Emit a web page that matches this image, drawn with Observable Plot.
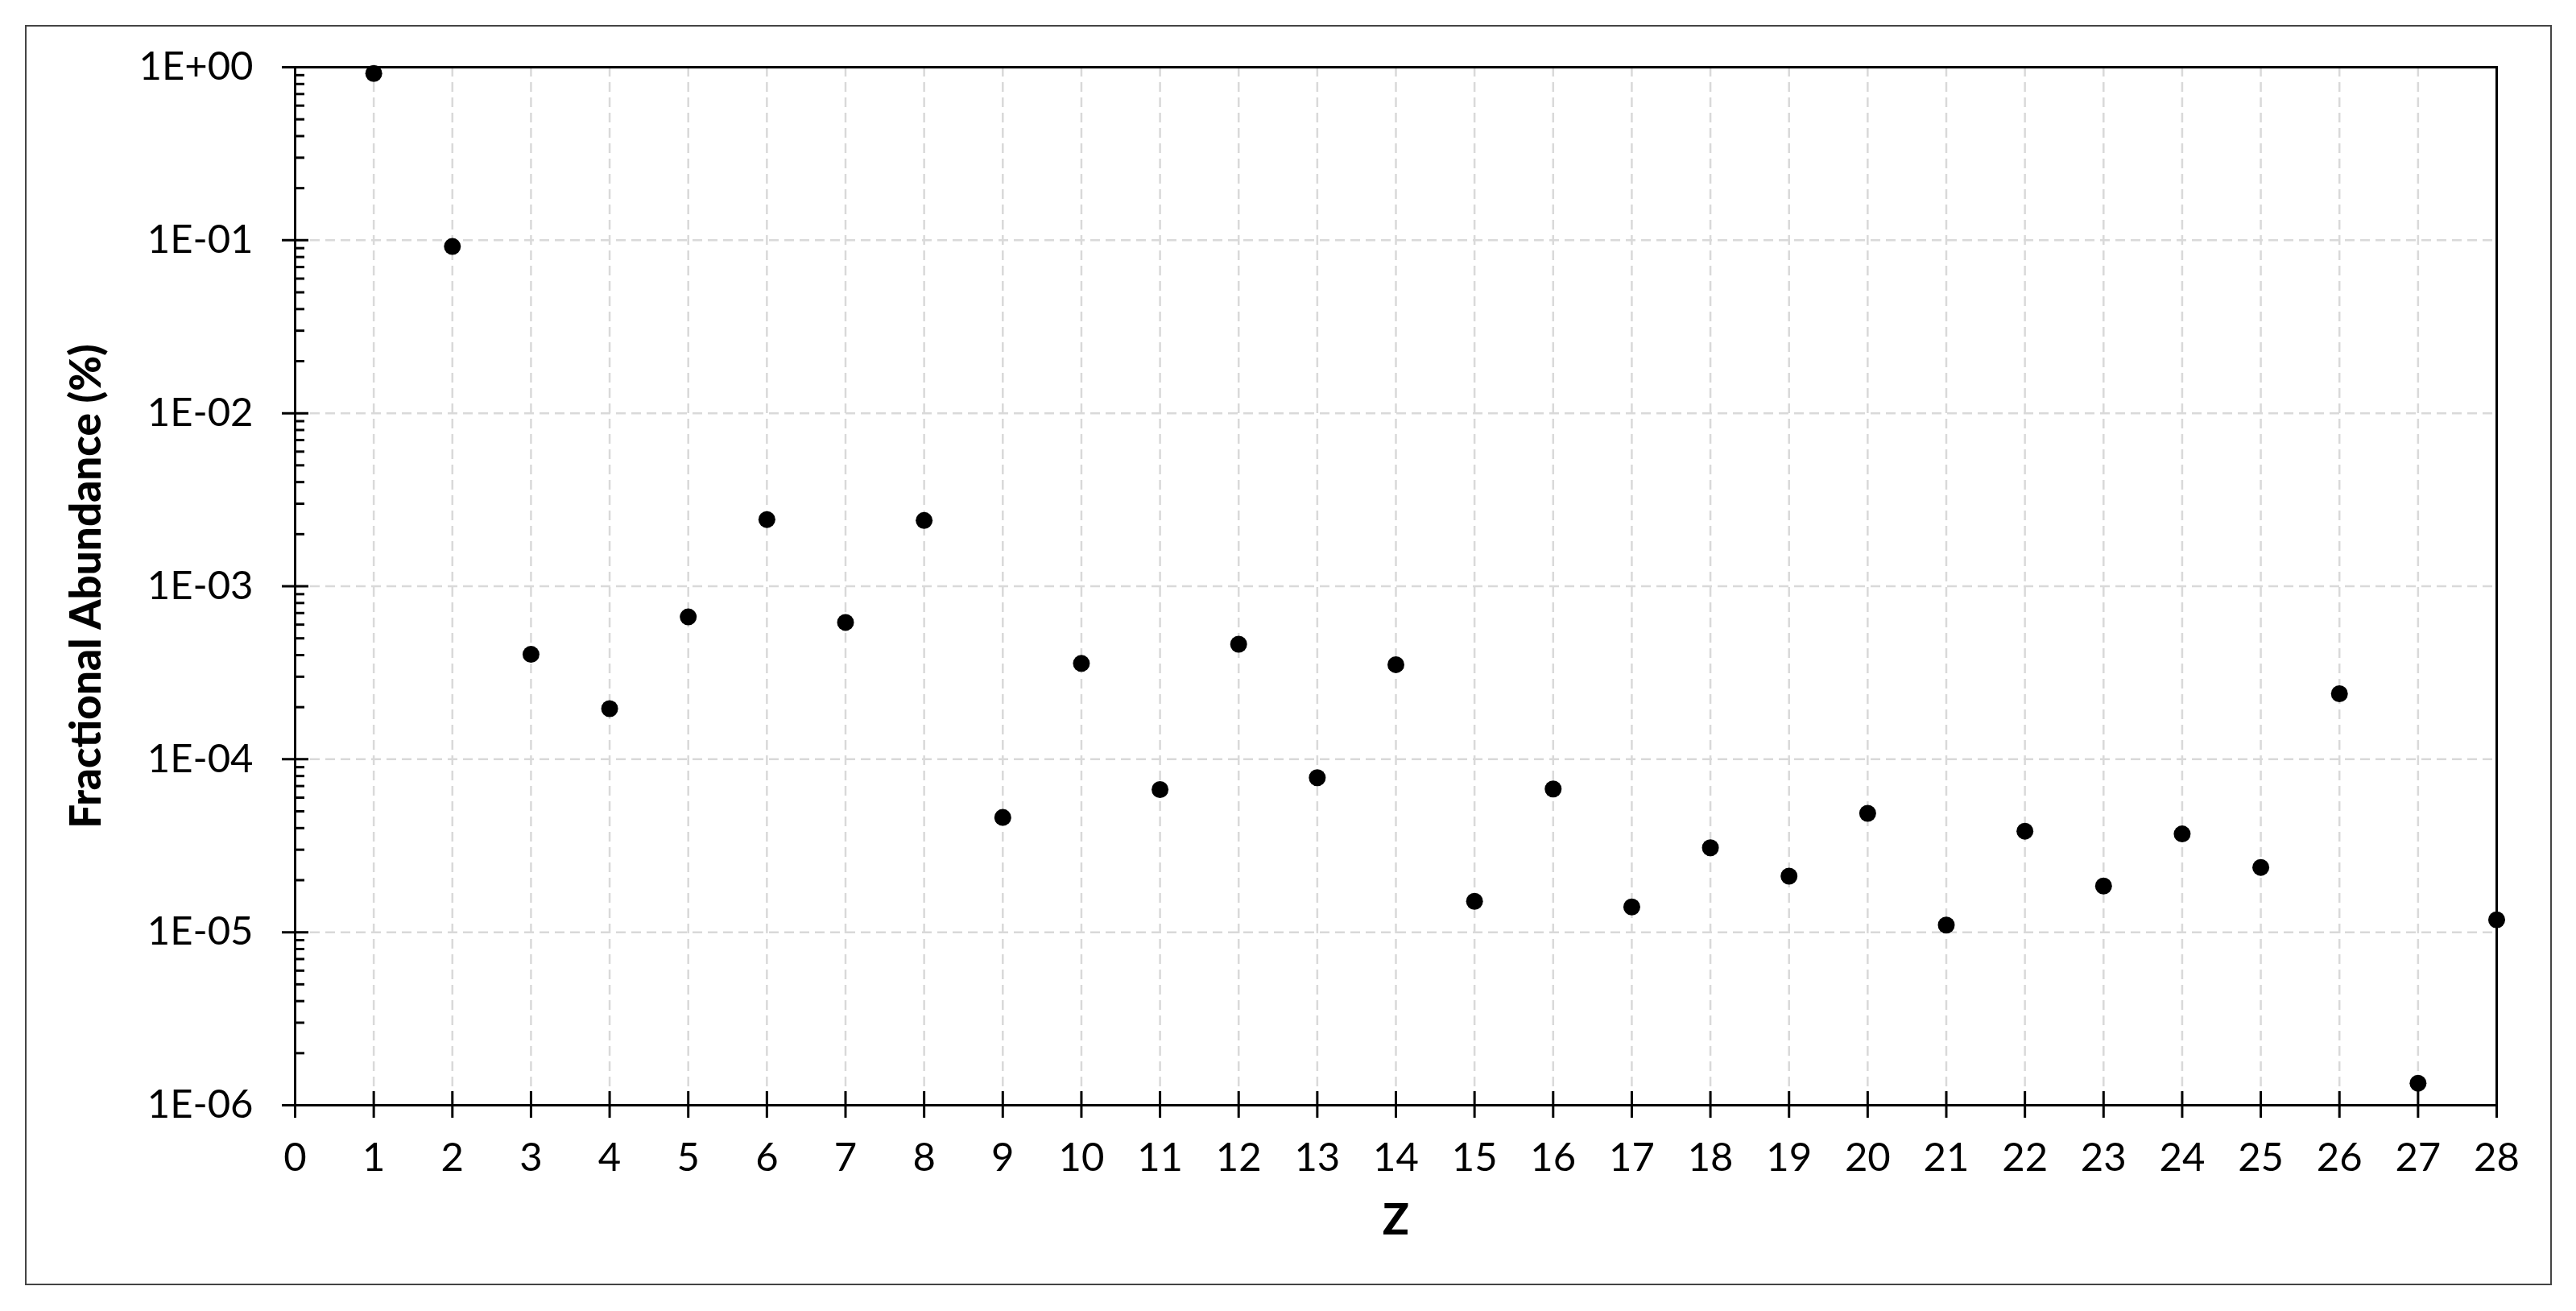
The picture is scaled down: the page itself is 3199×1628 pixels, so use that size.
<!DOCTYPE html>
<html>
<head>
<meta charset="utf-8">
<script src="https://cdn.jsdelivr.net/npm/d3@7"></script>
<script src="https://cdn.jsdelivr.net/npm/@observablehq/plot@0.6"></script>
<style>
  html, body { margin: 0; padding: 0; background: #fff; }
  #wrap { position: relative; width: 3199px; height: 1628px; }
  #border { position: absolute; left: 31px; top: 31px; width: 3134px; height: 1561px; border: 2px solid #444; box-sizing: content-box; pointer-events: none; }
  #chart { position: absolute; left: 0; top: 0; }
</style>
</head>
<body>
<div id="wrap"><div id="chart"></div><div id="border"></div></div>
<script>
// Atomic number Z
const zValues = [1, 2, 3, 4, 5, 6, 7, 8, 9, 10, 11, 12, 13, 14, 15, 16, 17, 18, 19, 20, 21, 22, 23, 24, 25, 26, 27, 28];
// Fractional abundance
const abundance = [
  0.92, 0.092, 4.04e-4, 1.96e-4, 6.65e-4, 2.43e-3, 6.18e-4, 2.40e-3, 4.61e-5, 3.58e-4,
  6.68e-5, 4.62e-4, 7.82e-5, 3.52e-4, 1.51e-5, 6.73e-5, 1.40e-5, 3.08e-5, 2.11e-5, 4.87e-5,
  1.10e-5, 3.84e-5, 1.85e-5, 3.70e-5, 2.37e-5, 2.39e-4, 1.34e-6, 1.18e-5
];
// Axis ticks
const xTicks = [0, 1, 2, 3, 4, 5, 6, 7, 8, 9, 10, 11, 12, 13, 14, 15, 16, 17, 18, 19, 20, 21, 22, 23, 24, 25, 26, 27, 28];
const yDecades = [1e-6, 1e-5, 1e-4, 1e-3, 1e-2, 1e-1, 1];
const yTickLabels = ["1E-06", "1E-05", "1E-04", "1E-03", "1E-02", "1E-01", "1E+00"];
const xLabel = "Z";
const yLabel = "Fractional Abundance (%)";

const data = zValues.map((z, i) => ({z, v: abundance[i]}));
const yMinor = [];
yDecades.slice(0, -1).forEach(d => { for (let k = 2; k <= 9; k++) yMinor.push(d * k); });
const fmtY = d => yTickLabels[yDecades.findIndex(t => Math.abs(Math.log10(t) - Math.log10(d)) < 1e-9)];
const blank = () => "";
const gridStyle = {stroke: "#d9d9d9", strokeOpacity: 1, strokeWidth: 2.5, strokeDasharray: "12,7"};

const chart = Plot.plot({
  width: 3199,
  height: 1628,
  marginLeft: 366,
  marginRight: 99,
  marginTop: 83,
  marginBottom: 256,
  style: {fontFamily: "Lato, 'Noto Sans', sans-serif", fontSize: "49px", color: "black", background: "transparent"},
  x: {domain: [0, 28], label: null},
  y: {type: "log", domain: [1e-6, 1], label: null},
  marks: [
    Plot.gridX(xTicks.slice(1, -1), gridStyle),
    Plot.gridY(yDecades.slice(1, -1), gridStyle),
    Plot.frame({stroke: "black", strokeWidth: 3}),
    // major y ticks crossing the axis
    Plot.axisY(yDecades, {tickSize: 33, dx: 17, strokeWidth: 3, tickFormat: blank, label: null}),
    // minor y ticks inside
    Plot.axisY(yMinor, {tickSize: 12, dx: 12, strokeWidth: 3, tickFormat: blank, label: null}),
    // y tick labels
    Plot.axisY(yDecades, {tickSize: 0, tickPadding: 52, tickFormat: fmtY, label: null}),
    // x ticks crossing the axis
    Plot.axisX(xTicks, {tickSize: 33, dy: -17, strokeWidth: 3, tickFormat: blank, label: null}),
    // x tick labels
    Plot.axisX(xTicks, {tickSize: 0, tickPadding: 47, tickFormat: d => String(d), label: null}),
    Plot.text([yLabel], {frameAnchor: "left", dx: -258, rotate: -90, textAnchor: "middle", lineAnchor: "middle", fontWeight: 900, fontSize: 53, text: d => d}),
    Plot.text([xLabel], {frameAnchor: "bottom", dy: 143, textAnchor: "middle", lineAnchor: "middle", fontWeight: 900, fontSize: 54, text: d => d}),
    Plot.dot(data, {x: "z", y: "v", r: 10.5, fill: "black", stroke: "none"})
  ]
});
document.getElementById("chart").appendChild(chart);
</script>
</body>
</html>
